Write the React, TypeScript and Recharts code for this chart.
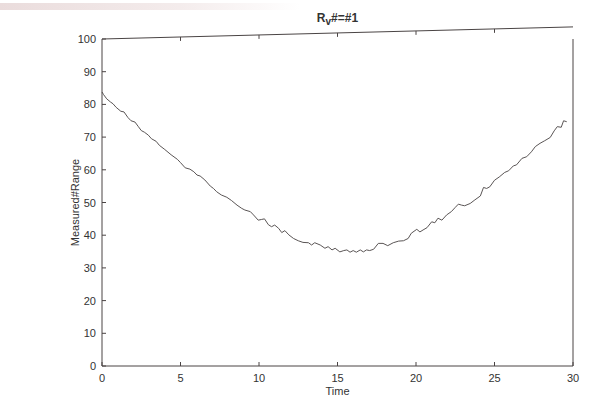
import React from "react";
import { LineChart, Line, XAxis, YAxis, ReferenceLine } from "recharts";

// time samples
const time = [
  0, 0.1, 0.3, 0.55, 0.7, 0.9, 1.2, 1.4, 1.65, 1.85, 2.1, 2.3, 2.5, 2.7, 2.95, 3.15, 3.45, 3.65, 4, 4.4,
  4.8, 5, 5.3, 5.6, 5.85, 6.05, 6.25, 6.55, 6.9, 7.1, 7.3, 7.6, 7.95, 8.25, 8.6, 8.9, 9.1, 9.45, 9.65, 9.95,
  10.15, 10.35, 10.6, 10.8, 11, 11.25, 11.45, 11.65, 11.9, 12.2, 12.5, 12.8, 13.15, 13.35, 13.55, 13.9, 14.2,
  14.4, 14.65, 14.85, 15.15, 15.4, 15.6, 15.8, 16, 16.2, 16.45, 16.65, 16.85, 17.05, 17.3, 17.6, 17.9, 18.2,
  18.55, 18.9, 19.2, 19.5, 19.7, 20.05, 20.25, 20.45, 20.7, 21, 21.2, 21.4, 21.65, 21.95, 22.25, 22.5, 22.7,
  22.9, 23.1, 23.45, 23.75, 24.1, 24.3, 24.5, 24.7, 25, 25.3, 25.65, 25.9, 26.2, 26.4, 26.75, 27.05, 27.35,
  27.6, 27.9, 28.2, 28.55, 28.8, 29, 29.25, 29.4, 29.6,
];

const measuredRange = [
  83.8, 83.0, 81.7, 80.7, 80.2, 79.1, 77.9, 77.7, 76.0, 75.0, 74.6, 73.3, 72.0, 71.5, 70.6, 69.5, 68.7, 67.5,
  66.2, 64.6, 63.2, 62.2, 60.6, 60.2, 59.4, 58.4, 58.1, 56.9, 55.0, 54.3, 53.3, 52.3, 51.6, 50.6, 49.2, 48.2,
  47.7, 47.2, 46.2, 44.6, 44.8, 45.0, 43.2, 42.6, 43.1, 42.1, 40.8, 41.4, 40.1, 39.0, 38.3, 37.8, 37.7, 37.0,
  37.7, 37.0, 36.0, 36.5, 35.5, 36.0, 34.9, 35.3, 35.5, 34.8, 35.3, 34.8, 35.5, 34.9, 35.5, 35.3, 35.7, 37.5,
  37.5, 36.8, 37.7, 38.2, 38.3, 39.0, 40.6, 41.8, 41.0, 41.6, 42.3, 44.1, 43.8, 45.2, 44.6, 46.2, 47.2, 48.5,
  49.5, 49.2, 49.0, 49.7, 50.8, 52.0, 54.6, 54.3, 54.8, 56.8, 57.8, 59.2, 59.7, 61.2, 61.5, 63.5, 64.0, 65.5,
  67.1, 68.1, 68.9, 69.9, 71.9, 73.2, 73.0, 75.0, 74.7,
];

const xTicks = [0, 5, 10, 15, 20, 25, 30];
const yTicks = [0, 10, 20, 30, 40, 50, 60, 70, 80, 90, 100];

// the scanned page is slightly bent: the top frame rises toward the right
const topLeft = 100;
const topRight = 103.7;

const data = time.map((t, i) => ({ t, v: measuredRange[i] }));

const ink = "#4a4444";
const font = "Liberation Sans, Arial, sans-serif";
const labelStyle = { fill: "#333", fontSize: 11, fontFamily: font };

const topAt = (t: number) => topLeft + ((topRight - topLeft) * t) / 30;

// MATLAB-style ticks: short marks pointing into the plot, labels outside
const LeftTick = (props: any) => {
  const { x, y, payload } = props;
  return (
    <g>
      <line x1={x + 6} x2={x + 10} y1={y} y2={y} stroke={ink} />
      <text x={x} y={y} dy={4} textAnchor="end" {...labelStyle}>
        {payload.value}
      </text>
    </g>
  );
};

const BottomTick = (props: any) => {
  const { x, y, payload } = props;
  return (
    <g>
      <line x1={x} x2={x} y1={y - 8} y2={y - 12} stroke={ink} />
      <text x={x} y={y} dy={8} textAnchor="middle" {...labelStyle}>
        {payload.value}
      </text>
    </g>
  );
};

const RightTick = (props: any) => {
  const { x, y } = props;
  return <line x1={x - 6} x2={x - 10} y1={y} y2={y} stroke={ink} />;
};

export default function App() {
  return (
    <div style={{ position: "absolute", left: 0, top: 0, width: 605, height: 410, background: "#fff" }}>
      <div
        style={{
          position: "absolute",
          left: 0,
          top: 3,
          width: 300,
          height: 7,
          background: "linear-gradient(to right, #eadcdc, #f4ecec 60%, rgba(255,255,255,0))",
        }}
      />
      <div
        style={{
          position: "absolute",
          left: 0,
          width: 675,
          top: 11,
          textAlign: "center",
          fontFamily: font,
          fontWeight: "bold",
          fontSize: 12,
          color: "#333",
        }}
      >
        R<sub style={{ fontSize: 10 }}>v</sub>#=#1
      </div>
      <LineChart width={605} height={410} data={data} margin={{ top: 39, right: 31, bottom: 18, left: 0 }}>
        <XAxis
          dataKey="t"
          type="number"
          domain={[0, 30]}
          ticks={xTicks}
          stroke={ink}
          tickLine={false}
          tickSize={0}
          tickMargin={8}
          tick={<BottomTick />}
          height={26}
          label={{ value: "Time", position: "insideBottom", offset: -3, style: labelStyle }}
        />
        <YAxis
          yAxisId="l"
          type="number"
          domain={[0, 100]}
          ticks={yTicks}
          stroke={ink}
          tickLine={false}
          tickSize={0}
          tickMargin={6}
          tick={<LeftTick />}
          width={102}
          label={{ value: "Measured#Range", angle: -90, position: "center", dx: 24, style: labelStyle }}
        />
        <YAxis
          yAxisId="r"
          orientation="right"
          type="number"
          domain={[0, 100]}
          ticks={yTicks}
          stroke={ink}
          tickLine={false}
          tickSize={0}
          tickMargin={6}
          tick={<RightTick />}
          width={1}
        />
        <ReferenceLine
          yAxisId="l"
          segment={[
            { x: 0, y: topLeft },
            { x: 30, y: topRight },
          ]}
          stroke={ink}
          ifOverflow="visible"
        />
        {xTicks.slice(1, -1).map((t) => (
          <ReferenceLine
            key={t}
            yAxisId="l"
            segment={[
              { x: t, y: topAt(t) },
              { x: t, y: topAt(t) - 1.2 },
            ]}
            stroke={ink}
            ifOverflow="visible"
          />
        ))}
        <Line
          yAxisId="l"
          type="linear"
          dataKey="v"
          stroke="#5a5555"
          strokeWidth={1}
          dot={false}
          isAnimationActive={false}
        />
      </LineChart>
    </div>
  );
}
